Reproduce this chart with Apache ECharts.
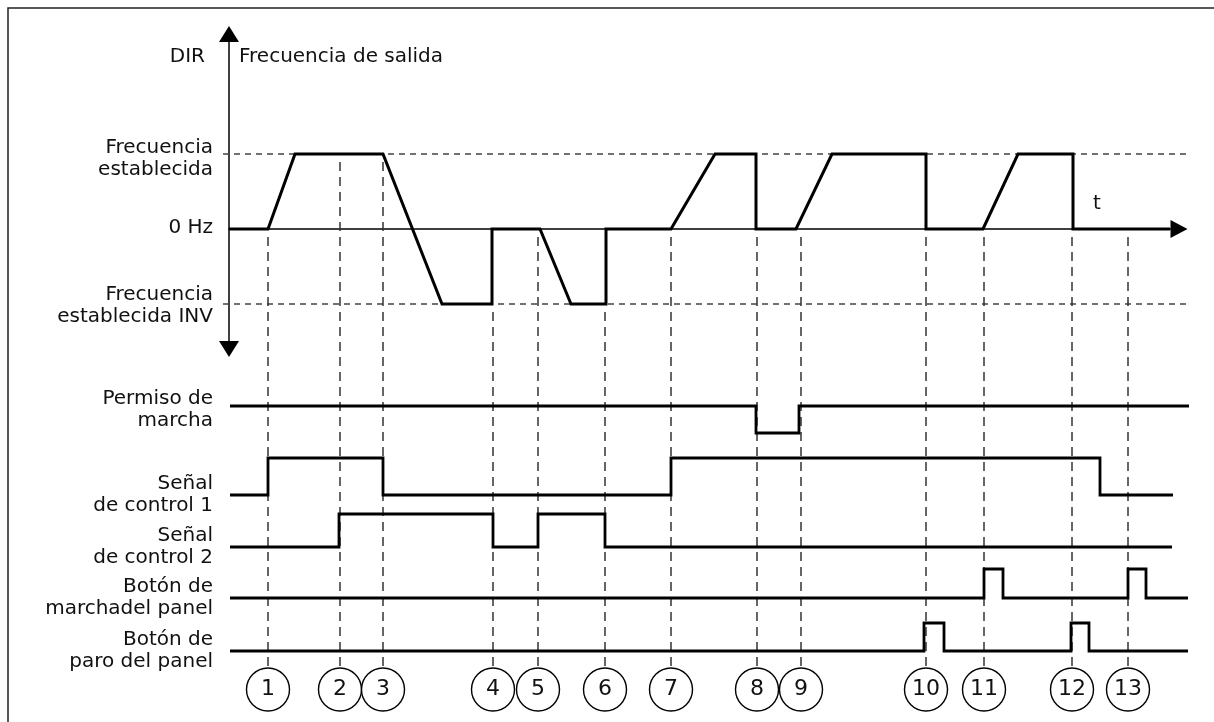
<!DOCTYPE html>
<html>
<head>
<meta charset="utf-8">
<script src="https://cdn.jsdelivr.net/npm/echarts@6/dist/echarts.min.js"></script>
<style>
  html, body { margin: 0; padding: 0; background: #fff; }
  #chart { width: 1214px; height: 722px; }
</style>
</head>
<body>
<div id="chart"></div>
<script>
// ---- Event instants (time units) and their numbered markers ----
const EVENT_TIMES = [3.9, 11.1, 15.4, 26.4, 30.9, 37.6, 44.2, 52.8, 57.2, 69.7, 75.5, 84.3, 89.9];
const EVENT_LABELS = ['1', '2', '3', '4', '5', '6', '7', '8', '9', '10', '11', '12', '13'];
// Output-frequency level at each event, where its guide line begins
const EVENT_START_LEVEL = [0, 1, 1, -1, 0, -1, 0, 0, 0, 0, 0, 0, 0];

// ---- Output frequency: +1 = set frequency, 0 = 0 Hz, -1 = set frequency INV ----
const FREQ_T = [0, 3.9, 6.6, 15.4, 21.3, 26.3, 26.3, 31.1, 34.2, 37.7, 37.7, 44.2, 48.6, 52.7, 52.7,
                56.7, 60.3, 69.7, 69.7, 75.4, 78.9, 84.4, 84.4, 94.1];
const FREQ_V = [0, 0, 1, 1, -1, -1, 0, 0, -1, -1, 0, 0, 1, 1, 0,
                0, 1, 1, 0, 0, 1, 1, 0, 0];
const FREQ_LEVELS = [1, 0, -1];
const FREQ_LEVEL_LABELS = ['Frecuencia\nestablecida', '0 Hz', 'Frecuencia\nestablecida INV'];
const REF_LEVELS = [1, -1];
const REF_SPAN = [-0.6, 95.9];
const AXIS_TITLE_LEFT = 'DIR';
const AXIS_TITLE_RIGHT = 'Frecuencia de salida';
const TIME_LABEL = 't';
const TIME_LABEL_AT = 86.8;

// ---- Digital signals: [time, state] change points (state 1 = high) ----
const PERMISO_MARCHA = [[0.1, 1], [52.7, 0], [57.0, 1], [96.0, 1]];
const SENAL_CONTROL_1 = [[0.1, 0], [3.9, 1], [15.4, 0], [44.2, 1], [87.1, 0], [94.4, 0]];
const SENAL_CONTROL_2 = [[0.1, 0], [11.0, 1], [26.4, 0], [30.9, 1], [37.6, 0], [94.3, 0]];
const BOTON_MARCHA_PANEL = [[0.1, 0], [75.5, 1], [77.4, 0], [89.9, 1], [91.7, 0], [95.9, 0]];
const BOTON_PARO_PANEL = [[0.1, 0], [69.5, 1], [71.5, 0], [84.2, 1], [86.0, 0], [95.9, 0]];
const SIGNAL_LABELS = ['Permiso de\nmarcha', 'Señal\nde control 1', 'Señal\nde control 2',
                       'Botón de\nmarchadel panel', 'Botón de\nparo del panel'];

// ---- Layout and style ----
const FONT = 'DejaVu Sans, Verdana, sans-serif';
const TEXT_COLOR = '#111';
const LEFT = 229;
const PX_PER_UNIT = 10;
const X_MIN = 0, X_MAX_FREQ = 95, X_MAX_ROWS = 97;
const SIGNAL_ROWS = [
  { top: 406, height: 27 },
  { top: 458, height: 37 },
  { top: 514, height: 33 },
  { top: 569, height: 29 },
  { top: 623, height: 28 }
];
const CIRCLE_R = 21.5;
const CIRCLE_GRID = 6;

const signals = [PERMISO_MARCHA, SENAL_CONTROL_1, SENAL_CONTROL_2, BOTON_MARCHA_PANEL, BOTON_PARO_PANEL];

// Turn change points into a square-wave polyline
function stepPoints(changes) {
  const pts = [changes[0].slice()];
  for (let i = 1; i < changes.length; i++) {
    pts.push([changes[i][0], changes[i - 1][1]]);
    pts.push([changes[i][0], changes[i][1]]);
  }
  return pts;
}

// Custom series that places text labels at data positions of one grid
function textSeries(gridIndex, anchors, texts, opts) {
  return {
    type: 'custom',
    xAxisIndex: gridIndex,
    yAxisIndex: gridIndex,
    silent: true,
    clip: false,
    z: 5,
    data: anchors,
    renderItem: function (params, api) {
      const p = api.coord([api.value(0), api.value(1)]);
      const o = opts[params.dataIndex] || opts[0];
      return {
        type: 'text',
        x: p[0] + o.dx,
        y: p[1] + o.dy,
        style: {
          text: texts[params.dataIndex],
          align: o.align,
          verticalAlign: 'middle',
          fontFamily: FONT,
          fontSize: o.size || 20,
          lineHeight: 22,
          fill: TEXT_COLOR
        }
      };
    }
  };
}

const chart = echarts.init(document.getElementById('chart'), null, { renderer: 'canvas' });

const hiddenAxis = { show: false };
const grids = [{ left: LEFT, width: (X_MAX_FREQ - X_MIN) * PX_PER_UNIT, top: 34, height: 315 }];
const xAxes = [{
  type: 'value', min: X_MIN, max: X_MAX_FREQ, gridIndex: 0,
  axisLine: { show: true, onZero: true, symbol: ['none', 'triangle'], symbolSize: [18, 17],
              lineStyle: { color: '#000', width: 1.5 } },
  axisTick: { show: false }, axisLabel: { show: false }, splitLine: { show: false }
}];
const yAxes = [{
  type: 'value', min: -1.6, max: 2.6, gridIndex: 0,
  axisLine: { show: true, onZero: false, symbol: ['triangle', 'triangle'], symbolSize: [20, 16],
              lineStyle: { color: '#000', width: 1.5 } },
  axisTick: { show: false }, axisLabel: { show: false }, splitLine: { show: false }
}];

SIGNAL_ROWS.forEach(function (r, i) {
  grids.push({ left: LEFT, width: (X_MAX_ROWS - X_MIN) * PX_PER_UNIT, top: r.top, height: r.height });
  xAxes.push(Object.assign({ type: 'value', min: X_MIN, max: X_MAX_ROWS, gridIndex: i + 1 }, hiddenAxis));
  yAxes.push(Object.assign({ type: 'value', min: 0, max: 1, gridIndex: i + 1 }, hiddenAxis));
});
// Row of numbered event markers
grids.push({ left: LEFT, width: (X_MAX_ROWS - X_MIN) * PX_PER_UNIT, top: 668, height: 43 });
xAxes.push(Object.assign({ type: 'value', min: X_MIN, max: X_MAX_ROWS, gridIndex: CIRCLE_GRID }, hiddenAxis));
yAxes.push(Object.assign({ type: 'value', min: 0, max: 1, gridIndex: CIRCLE_GRID }, hiddenAxis));

const series = [];

// Dashed reference levels for set frequency and its reverse
series.push({
  type: 'custom', xAxisIndex: 0, yAxisIndex: 0, clip: false, silent: true, z: 1,
  data: REF_LEVELS.map(function (lv) { return [REF_SPAN[0], lv, REF_SPAN[1]]; }),
  renderItem: function (params, api) {
    const a = api.coord([api.value(0), api.value(1)]);
    const b = api.coord([api.value(2), api.value(1)]);
    return {
      type: 'line',
      shape: { x1: a[0], y1: a[1], x2: b[0], y2: b[1] },
      style: { stroke: '#444', lineWidth: 1.3, lineDash: [6, 5] }
    };
  }
});

// Guide lines from each event down to its numbered marker
series.push({
  type: 'custom', xAxisIndex: 0, yAxisIndex: 0, clip: false, silent: true, z: 1,
  data: EVENT_TIMES.map(function (t, i) { return [t, EVENT_START_LEVEL[i]]; }),
  renderItem: function (params, api) {
    const t = api.value(0);
    const p = api.coord([t, api.value(1)]);
    let yEnd;
    try {
      yEnd = chart.convertToPixel({ gridIndex: CIRCLE_GRID }, [t, 0.5])[1] - CIRCLE_R - 2;
    } catch (e) {
      return null;
    }
    return {
      type: 'line',
      shape: { x1: p[0], y1: p[1] + 8, x2: p[0], y2: yEnd },
      style: { stroke: '#333', lineWidth: 1.5, lineDash: [9, 6] }
    };
  }
});

// Output frequency curve
series.push({
  type: 'line', xAxisIndex: 0, yAxisIndex: 0, clip: false, silent: true,
  symbol: 'none', z: 3,
  data: FREQ_T.map(function (t, i) { return [t, FREQ_V[i]]; }),
  lineStyle: { color: '#000', width: 3, join: 'miter' }
});

// Digital signal traces
signals.forEach(function (sig, i) {
  series.push({
    type: 'line', xAxisIndex: i + 1, yAxisIndex: i + 1, clip: false, silent: true,
    symbol: 'none', z: 3,
    data: stepPoints(sig),
    lineStyle: { color: '#000', width: 2.8, join: 'miter' }
  });
});

// Numbered event markers
series.push({
  type: 'scatter', xAxisIndex: CIRCLE_GRID, yAxisIndex: CIRCLE_GRID, clip: false, silent: true, z: 4,
  symbol: 'circle', symbolSize: CIRCLE_R * 2,
  data: EVENT_TIMES.map(function (t, i) { return [t, 0.5, EVENT_LABELS[i]]; }),
  itemStyle: { color: '#fff', borderColor: '#000', borderWidth: 1.4, opacity: 1 },
  label: {
    show: true, position: 'inside', color: TEXT_COLOR, fontFamily: FONT, fontSize: 22,
    formatter: function (p) { return p.value[2]; }
  }
});

// Frequency axis texts
series.push(textSeries(0,
  FREQ_LEVELS.map(function (lv) { return [X_MIN, lv]; }),
  FREQ_LEVEL_LABELS,
  [{ dx: -16, dy: 5, align: 'right' }, { dx: -16, dy: -1, align: 'right' }, { dx: -16, dy: 2, align: 'right' }]
));
series.push(textSeries(0,
  [[X_MIN, 2.6], [X_MIN, 2.6], [TIME_LABEL_AT, 0]],
  [AXIS_TITLE_LEFT, AXIS_TITLE_RIGHT, TIME_LABEL],
  [{ dx: -24, dy: 23, align: 'right' }, { dx: 10, dy: 23, align: 'left' }, { dx: 0, dy: -25, align: 'center' }]
));

// Signal row names, centred on each row's initial level
signals.forEach(function (sig, i) {
  series.push(textSeries(i + 1, [[X_MIN, sig[0][1]]], [SIGNAL_LABELS[i]],
    [{ dx: -16, dy: i === 0 ? 4 : 0, align: 'right' }]));
});

chart.setOption({
  animation: false,
  backgroundColor: '#fff',
  grid: grids,
  xAxis: xAxes,
  yAxis: yAxes,
  series: series,
  graphic: [{
    type: 'rect', silent: true, z: -1,
    shape: { x: 8, y: 8, width: 1230, height: 730 },
    style: { fill: 'none', stroke: '#222', lineWidth: 1.5 }
  }]
});
</script>
</body>
</html>
